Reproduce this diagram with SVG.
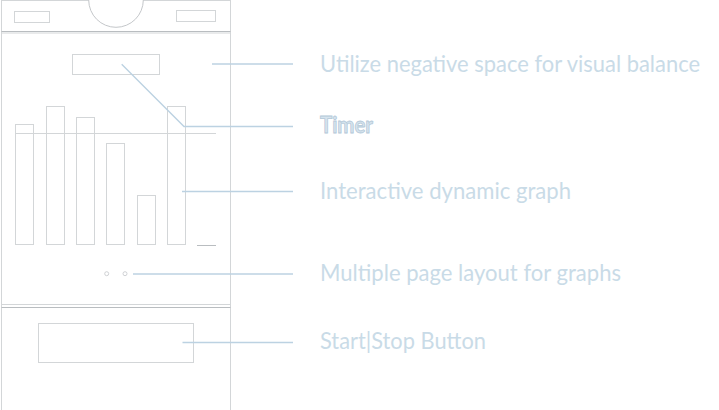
<svg xmlns="http://www.w3.org/2000/svg" width="719" height="410" viewBox="0 0 719 410">
  <style>
    .wire { fill: none; stroke: #d3d6d8; stroke-width: 1; }
    .wire-dark { fill: none; stroke: #b9bdc0; stroke-width: 1; }
    .lead { fill: none; stroke: #bcd2e2; stroke-width: 1.4; }
    .label { font-family: Lato, "Open Sans", sans-serif; font-size: 22.5px; fill: #c9dbe7; }
    .label-bold { font-family: Lato, "Open Sans", sans-serif; font-size: 22px; font-weight: bold; fill: #d6e4ee; stroke: #b3c8d8; stroke-width: 0.8; }
  </style>
  <rect width="719" height="410" fill="#ffffff"/>

  <!-- phone wireframe -->
  <g id="phone">
    <line class="wire" x1="1.5" y1="0" x2="1.5" y2="410"/>
    <line class="wire" x1="230.5" y1="0" x2="230.5" y2="410"/>
    <line class="wire" x1="1.5" y1="0.5" x2="230.5" y2="0.5"/>
    <line class="wire-dark" x1="1.5" y1="31.5" x2="230.5" y2="31.5"/>
    <line class="wire" x1="1.5" y1="33" x2="230.5" y2="33"/>
  </g>

  <g id="header">
    <rect class="wire" x="14.5" y="11.5" width="35" height="11"/>
    <rect class="wire" x="176.5" y="10.5" width="39" height="11"/>
    <circle cx="116" cy="0" r="27.3" fill="#ffffff" stroke="#c4c7ca" stroke-width="1"/>
  </g>

  <g id="timer">
    <rect class="wire" x="72.5" y="54.5" width="87" height="20"/>
  </g>

  <g id="graph">
    <rect class="wire" x="15.5" y="124.5" width="18" height="120"/>
    <rect class="wire" x="46.5" y="106.5" width="18" height="138"/>
    <rect class="wire" x="76.5" y="117.5" width="18" height="127"/>
    <rect class="wire" x="106.5" y="143.5" width="18" height="101"/>
    <rect class="wire" x="137.5" y="195.5" width="18" height="49"/>
    <rect class="wire" x="167.5" y="106.5" width="18" height="138"/>
    <line class="wire" x1="15.5" y1="133.5" x2="216" y2="133.5"/>
    <line class="wire-dark" x1="197" y1="245.5" x2="216" y2="245.5"/>
  </g>

  <g id="pager">
    <circle cx="106.7" cy="273.7" r="2" fill="none" stroke="#c4c7ca" stroke-width="0.8"/>
    <circle cx="125" cy="273.7" r="2" fill="none" stroke="#c4c7ca" stroke-width="0.8"/>
  </g>

  <g id="footer">
    <line class="wire" x1="1.5" y1="304.5" x2="230.5" y2="304.5"/>
    <line class="wire-dark" x1="1.5" y1="307.5" x2="230.5" y2="307.5"/>
    <rect class="wire" x="38.5" y="323.5" width="155" height="39"/>
  </g>

  <!-- callout leaders -->
  <g id="connectors">
    <line class="lead" x1="212" y1="64" x2="293" y2="64"/>
    <polyline class="lead" points="121.7,64.3 184,126.5 293,126.5"/>
    <line class="lead" x1="182" y1="191.5" x2="293" y2="191.5"/>
    <line class="lead" x1="133" y1="274" x2="293" y2="274"/>
    <line class="lead" x1="182.5" y1="342.5" x2="293" y2="342.5"/>
  </g>

  <!-- callout labels -->
  <g id="labels">
    <text class="label" x="320" y="71.5" textLength="380" lengthAdjust="spacingAndGlyphs">Utilize negative space for visual balance</text>
    <text class="label-bold" x="320" y="133.3" textLength="53" lengthAdjust="spacingAndGlyphs">Timer</text>
    <text class="label" x="320" y="198.5" textLength="251" lengthAdjust="spacingAndGlyphs">Interactive dynamic graph</text>
    <text class="label" x="320" y="280.5" textLength="301" lengthAdjust="spacingAndGlyphs">Multiple page layout for graphs</text>
    <text class="label" x="320" y="348.5" textLength="166" lengthAdjust="spacingAndGlyphs">Start|Stop Button</text>
  </g>
</svg>
